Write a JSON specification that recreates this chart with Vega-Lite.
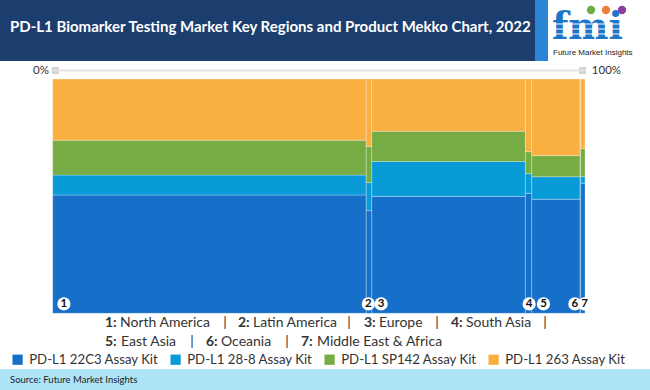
{
  "$schema": "https://vega.github.io/schema/vega-lite/v6.json",
  "padding": 0,
  "spacing": 0,
  "bounds": "flush",
  "background": "white",
  "config": {"view": {"stroke": null}, "font": "Lato"},
  "vconcat": [
    {
      "width": 650,
      "height": 61,
      "view": {"fill": "#1b3e6e", "stroke": null},
      "data": {"values": [{}]},
      "layer": [
        {"mark": {"type": "rect", "color": "#2c84d4"}, "encoding": {"x": {"value": 535}, "x2": {"value": 549}, "y": {"value": 0}, "y2": {"value": 61}}},
        {"mark": {"type": "rect", "color": "#ffffff"}, "encoding": {"x": {"value": 548}, "x2": {"value": 650}, "y": {"value": 0}, "y2": {"value": 61}}},
        {"mark": {"type": "text", "text": "PD-L1 Biomarker Testing Market Key Regions and Product Mekko Chart, 2022", "color": "#ffffff", "fontSize": 15, "fontWeight": "bold", "font": "Lato", "align": "left", "baseline": "middle"}, "encoding": {"x": {"value": 10}, "y": {"value": 27}}},
        {"mark": {"type": "text", "text": "fmi", "color": "#1b75c9", "fontSize": 38, "fontWeight": "bold", "font": "DejaVu Serif", "align": "left", "baseline": "bottom"}, "encoding": {"x": {"value": 552}, "y": {"value": 47}}},
        {"mark": {"type": "rule", "color": "#ffffff", "strokeWidth": 1.2}, "encoding": {"x": {"value": 552}, "x2": {"value": 630}, "y": {"value": 24}}},
        {"mark": {"type": "rule", "color": "#ffffff", "strokeWidth": 1.2}, "encoding": {"x": {"value": 552}, "x2": {"value": 630}, "y": {"value": 29}}},
        {"mark": {"type": "rule", "color": "#ffffff", "strokeWidth": 1.2}, "encoding": {"x": {"value": 552}, "x2": {"value": 630}, "y": {"value": 34}}},
        {"mark": {"type": "point", "shape": "circle", "filled": true, "opacity": 1, "color": "#6aae45", "size": 70}, "encoding": {"x": {"value": 591}, "y": {"value": 10}}},
        {"mark": {"type": "point", "shape": "circle", "filled": true, "opacity": 1, "color": "#f07f3c", "size": 70}, "encoding": {"x": {"value": 606}, "y": {"value": 10}}},
        {"mark": {"type": "point", "shape": "circle", "filled": true, "opacity": 1, "color": "#8b3f9e", "size": 70}, "encoding": {"x": {"value": 622}, "y": {"value": 10}}},
        {"mark": {"type": "text", "text": "Future Market Insights", "color": "#222222", "fontSize": 8, "font": "Liberation Sans", "align": "left", "baseline": "middle"}, "encoding": {"x": {"value": 553}, "y": {"value": 53}}}
      ]
    },
    {
      "width": 650,
      "height": 255,
      "layer": [
        {
          "data": {
            "values": [
              {"region": "North America", "ro": 1, "width": 59.0, "product": "PD-L1 22C3 Assay Kit", "po": 1, "share": 50.5},
              {"region": "North America", "ro": 1, "width": 59.0, "product": "PD-L1 28-8 Assay Kit", "po": 2, "share": 8.5},
              {"region": "North America", "ro": 1, "width": 59.0, "product": "PD-L1 SP142 Assay Kit", "po": 3, "share": 14.9},
              {"region": "North America", "ro": 1, "width": 59.0, "product": "PD-L1 263 Assay Kit", "po": 4, "share": 26.1},
              {"region": "Latin America", "ro": 2, "width": 1.05, "product": "PD-L1 22C3 Assay Kit", "po": 1, "share": 43.8},
              {"region": "Latin America", "ro": 2, "width": 1.05, "product": "PD-L1 28-8 Assay Kit", "po": 2, "share": 12.0},
              {"region": "Latin America", "ro": 2, "width": 1.05, "product": "PD-L1 SP142 Assay Kit", "po": 3, "share": 15.4},
              {"region": "Latin America", "ro": 2, "width": 1.05, "product": "PD-L1 263 Assay Kit", "po": 4, "share": 28.8},
              {"region": "Europe", "ro": 3, "width": 28.9, "product": "PD-L1 22C3 Assay Kit", "po": 1, "share": 49.9},
              {"region": "Europe", "ro": 3, "width": 28.9, "product": "PD-L1 28-8 Assay Kit", "po": 2, "share": 14.9},
              {"region": "Europe", "ro": 3, "width": 28.9, "product": "PD-L1 SP142 Assay Kit", "po": 3, "share": 12.9},
              {"region": "Europe", "ro": 3, "width": 28.9, "product": "PD-L1 263 Assay Kit", "po": 4, "share": 22.3},
              {"region": "South Asia", "ro": 4, "width": 1.2, "product": "PD-L1 22C3 Assay Kit", "po": 1, "share": 51.2},
              {"region": "South Asia", "ro": 4, "width": 1.2, "product": "PD-L1 28-8 Assay Kit", "po": 2, "share": 8.4},
              {"region": "South Asia", "ro": 4, "width": 1.2, "product": "PD-L1 SP142 Assay Kit", "po": 3, "share": 9.4},
              {"region": "South Asia", "ro": 4, "width": 1.2, "product": "PD-L1 263 Assay Kit", "po": 4, "share": 31.0},
              {"region": "East Asia", "ro": 5, "width": 9.1, "product": "PD-L1 22C3 Assay Kit", "po": 1, "share": 48.7},
              {"region": "East Asia", "ro": 5, "width": 9.1, "product": "PD-L1 28-8 Assay Kit", "po": 2, "share": 9.6},
              {"region": "East Asia", "ro": 5, "width": 9.1, "product": "PD-L1 SP142 Assay Kit", "po": 3, "share": 9.0},
              {"region": "East Asia", "ro": 5, "width": 9.1, "product": "PD-L1 263 Assay Kit", "po": 4, "share": 32.7},
              {"region": "Oceania", "ro": 6, "width": 0.12, "product": "PD-L1 22C3 Assay Kit", "po": 1, "share": 50.0},
              {"region": "Oceania", "ro": 6, "width": 0.12, "product": "PD-L1 28-8 Assay Kit", "po": 2, "share": 9.0},
              {"region": "Oceania", "ro": 6, "width": 0.12, "product": "PD-L1 SP142 Assay Kit", "po": 3, "share": 11.0},
              {"region": "Oceania", "ro": 6, "width": 0.12, "product": "PD-L1 263 Assay Kit", "po": 4, "share": 30.0},
              {"region": "Middle East & Africa", "ro": 7, "width": 0.8, "product": "PD-L1 22C3 Assay Kit", "po": 1, "share": 55.5},
              {"region": "Middle East & Africa", "ro": 7, "width": 0.8, "product": "PD-L1 28-8 Assay Kit", "po": 2, "share": 2.8},
              {"region": "Middle East & Africa", "ro": 7, "width": 0.8, "product": "PD-L1 SP142 Assay Kit", "po": 3, "share": 12.0},
              {"region": "Middle East & Africa", "ro": 7, "width": 0.8, "product": "PD-L1 263 Assay Kit", "po": 4, "share": 29.7}
            ]
          },
          "transform": [
            {"stack": "share", "groupby": ["region"], "sort": [{"field": "po", "order": "ascending"}], "as": ["y0", "y1"], "offset": "normalize"},
            {"stack": "width", "groupby": ["product"], "sort": [{"field": "ro", "order": "ascending"}], "as": ["x0", "x1"], "offset": "normalize"}
          ],
          "mark": {"type": "rect", "stroke": "#ffffff", "strokeWidth": 0.6, "strokeOpacity": 0.45},
          "encoding": {
            "x": {
              "field": "x0", "type": "quantitative",
              "scale": {"domain": [0, 1], "range": [52.7, 585], "nice": false},
              "axis": {
                "orient": "top", "offset": -9, "values": [0.005, 0.995], "title": null, "grid": false,
                "labelExpr": "datum.value < 0.5 ? '0%' : '100%'",
                "labelAlign": {"condition": {"test": "datum.value < 0.5", "value": "right"}, "value": "left"},
                "labelOffset": {"condition": {"test": "datum.value < 0.5", "value": -7}, "value": 9},
                "labelBaseline": "middle", "labelPadding": 0, "labelFontSize": 11.5, "labelColor": "#333333", "labelFont": "Lato",
                "labelFlush": false, "labelOverlap": false,
                "tickSize": 0, "tickWidth": 7, "tickCap": "square", "tickColor": "#d2d2d2",
                "domainColor": "#e3e3e3", "domainWidth": 2
              }
            },
            "x2": {"field": "x1"},
            "y": {"field": "y0", "type": "quantitative", "scale": {"domain": [0, 1], "range": [252.3, 18], "nice": false}, "axis": null},
            "y2": {"field": "y1"},
            "color": {
              "field": "product", "type": "nominal",
              "scale": {"domain": ["PD-L1 22C3 Assay Kit", "PD-L1 28-8 Assay Kit", "PD-L1 SP142 Assay Kit", "PD-L1 263 Assay Kit"], "range": ["#166fc8", "#099bd8", "#76ac43", "#faaf41"]},
              "legend": {
                "orient": "none", "legendX": 11, "legendY": 353, "direction": "horizontal", "columns": 4, "title": null,
                "symbolType": "square", "symbolSize": 105, "symbolStrokeWidth": 0, "symbolOpacity": 1,
                "labelFontSize": 13.2, "labelFont": "Lato", "labelColor": "#333333", "labelLimit": 300, "labelOffset": 5,
                "columnPadding": 10
              }
            }
          }
        },
        {
          "data": {"values": [{"n": "1", "at": 0.021}, {"n": "2", "at": 0.593}, {"n": "3", "at": 0.617}, {"n": "4", "at": 0.895}, {"n": "5", "at": 0.922}, {"n": "6", "at": 0.981}, {"n": "7", "at": 0.999}]},
          "mark": {"type": "point", "shape": "circle", "filled": true, "color": "#ffffff", "opacity": 1, "size": 175},
          "encoding": {
            "x": {"field": "at", "type": "quantitative", "scale": {"domain": [0, 1], "range": [52.7, 585], "nice": false}},
            "y": {"datum": 0.04, "type": "quantitative"}
          }
        },
        {
          "data": {"values": [{"n": "1", "at": 0.021}, {"n": "2", "at": 0.593}, {"n": "3", "at": 0.617}, {"n": "4", "at": 0.895}, {"n": "5", "at": 0.922}, {"n": "6", "at": 0.981}, {"n": "7", "at": 0.999}]},
          "mark": {"type": "text", "fontWeight": "bold", "fontSize": 11.5, "font": "Lato", "color": "#111111", "baseline": "middle", "align": "center", "dy": 0.5},
          "encoding": {
            "x": {"field": "at", "type": "quantitative", "scale": {"domain": [0, 1], "range": [52.7, 585], "nice": false}},
            "y": {"datum": 0.04, "type": "quantitative"},
            "text": {"field": "n"}
          }
        }
      ]
    },
    {
      "width": 650,
      "height": 53,
      "data": {"values": [{}]},
      "layer": [
        {"mark": {"type": "text", "text": "1:", "fontWeight": "bold", "fontSize": 14, "color": "#333333", "align": "left", "baseline": "middle"}, "encoding": {"x": {"value": 105}, "y": {"value": 7}}},
        {"mark": {"type": "text", "text": "North America", "fontSize": 14, "color": "#333333", "align": "left", "baseline": "middle"}, "encoding": {"x": {"value": 120}, "y": {"value": 7}}},
        {"mark": {"type": "text", "text": "|", "fontSize": 14, "color": "#333333", "align": "center", "baseline": "middle"}, "encoding": {"x": {"value": 225}, "y": {"value": 7}}},
        {"mark": {"type": "text", "text": "2:", "fontWeight": "bold", "fontSize": 14, "color": "#333333", "align": "left", "baseline": "middle"}, "encoding": {"x": {"value": 238}, "y": {"value": 7}}},
        {"mark": {"type": "text", "text": "Latin America", "fontSize": 14, "color": "#333333", "align": "left", "baseline": "middle"}, "encoding": {"x": {"value": 253}, "y": {"value": 7}}},
        {"mark": {"type": "text", "text": "|", "fontSize": 14, "color": "#333333", "align": "center", "baseline": "middle"}, "encoding": {"x": {"value": 349}, "y": {"value": 7}}},
        {"mark": {"type": "text", "text": "3:", "fontWeight": "bold", "fontSize": 14, "color": "#333333", "align": "left", "baseline": "middle"}, "encoding": {"x": {"value": 364}, "y": {"value": 7}}},
        {"mark": {"type": "text", "text": "Europe", "fontSize": 14, "color": "#333333", "align": "left", "baseline": "middle"}, "encoding": {"x": {"value": 379}, "y": {"value": 7}}},
        {"mark": {"type": "text", "text": "|", "fontSize": 14, "color": "#333333", "align": "center", "baseline": "middle"}, "encoding": {"x": {"value": 437}, "y": {"value": 7}}},
        {"mark": {"type": "text", "text": "4:", "fontWeight": "bold", "fontSize": 14, "color": "#333333", "align": "left", "baseline": "middle"}, "encoding": {"x": {"value": 451}, "y": {"value": 7}}},
        {"mark": {"type": "text", "text": "South Asia", "fontSize": 14, "color": "#333333", "align": "left", "baseline": "middle"}, "encoding": {"x": {"value": 466}, "y": {"value": 7}}},
        {"mark": {"type": "text", "text": "|", "fontSize": 14, "color": "#333333", "align": "center", "baseline": "middle"}, "encoding": {"x": {"value": 545}, "y": {"value": 7}}},
        {"mark": {"type": "text", "text": "5:", "fontWeight": "bold", "fontSize": 14, "color": "#333333", "align": "left", "baseline": "middle"}, "encoding": {"x": {"value": 105}, "y": {"value": 26}}},
        {"mark": {"type": "text", "text": "East Asia", "fontSize": 14, "color": "#333333", "align": "left", "baseline": "middle"}, "encoding": {"x": {"value": 121}, "y": {"value": 26}}},
        {"mark": {"type": "text", "text": "|", "fontSize": 14, "color": "#333333", "align": "center", "baseline": "middle"}, "encoding": {"x": {"value": 192}, "y": {"value": 26}}},
        {"mark": {"type": "text", "text": "6:", "fontWeight": "bold", "fontSize": 14, "color": "#333333", "align": "left", "baseline": "middle"}, "encoding": {"x": {"value": 206}, "y": {"value": 26}}},
        {"mark": {"type": "text", "text": "Oceania", "fontSize": 14, "color": "#333333", "align": "left", "baseline": "middle"}, "encoding": {"x": {"value": 221}, "y": {"value": 26}}},
        {"mark": {"type": "text", "text": "|", "fontSize": 14, "color": "#333333", "align": "center", "baseline": "middle"}, "encoding": {"x": {"value": 287}, "y": {"value": 26}}},
        {"mark": {"type": "text", "text": "7:", "fontWeight": "bold", "fontSize": 14, "color": "#333333", "align": "left", "baseline": "middle"}, "encoding": {"x": {"value": 301}, "y": {"value": 26}}},
        {"mark": {"type": "text", "text": "Middle East & Africa", "fontSize": 14, "color": "#333333", "align": "left", "baseline": "middle"}, "encoding": {"x": {"value": 317}, "y": {"value": 26}}}
      ]
    },
    {
      "width": 650,
      "height": 21,
      "view": {"fill": "#ade4f8", "stroke": null},
      "data": {"values": [{}]},
      "mark": {"type": "text", "text": "Source: Future Market Insights", "fontSize": 9.5, "color": "#222222", "align": "left", "baseline": "middle"},
      "encoding": {"x": {"value": 10}, "y": {"value": 11}}
    }
  ]
}
